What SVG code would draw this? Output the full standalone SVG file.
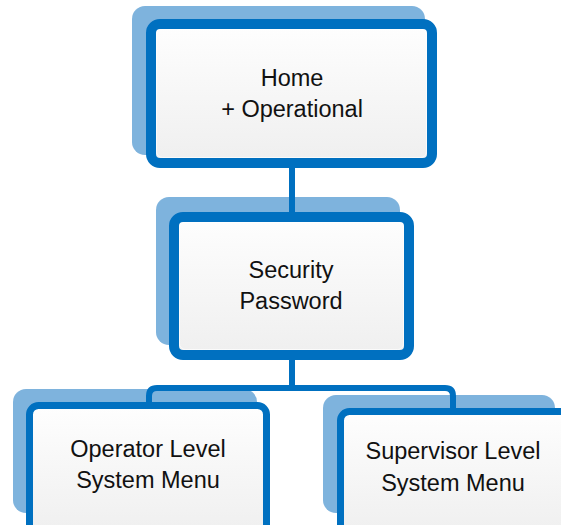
<svg xmlns="http://www.w3.org/2000/svg" width="561" height="525" viewBox="0 0 561 525">
  <defs>
    <linearGradient id="boxFill" x1="0" y1="0" x2="0" y2="1">
      <stop offset="0" stop-color="#fefefe"/>
      <stop offset="1" stop-color="#efefef"/>
    </linearGradient>
    <style>
      .shadow { fill: #7eb3dd; }
      .box { fill: url(#boxFill); stroke: #0070c0; stroke-width: 10; }
      .box.small { stroke-width: 7; }
      .inner { fill: none; stroke: #ffffff; stroke-width: 1; opacity: 0.7; }
      .link { fill: none; stroke: #0070c0; stroke-width: 6; }
      text { font-family: "Liberation Sans", Arial, sans-serif; font-size: 23.5px; fill: #111111; text-anchor: middle; }
    </style>
  </defs>

  <rect width="561" height="525" fill="#ffffff"/>

  <!-- Home -->
  <g id="home">
    <rect class="shadow" x="132" y="6" width="293" height="149" rx="13"/>
    <rect class="box" x="151" y="24" width="281" height="139" rx="9"/>
    <rect class="inner" x="156.5" y="29.5" width="270" height="128" rx="6"/>
    <text x="292" y="86">Home</text>
    <text x="292" y="117">+ Operational</text>
  </g>

  <!-- Security -->
  <g id="security">
    <rect class="shadow" x="156" y="197" width="244" height="148" rx="13"/>
    <rect class="box" x="174" y="217" width="235" height="138" rx="9"/>
    <rect class="inner" x="179.5" y="222.5" width="224" height="127" rx="6"/>
    <text x="291" y="278">Security</text>
    <text x="291" y="309">Password</text>
  </g>

  <!-- Operator -->
  <g id="operator">
    <rect class="shadow" x="13" y="389" width="244" height="124" rx="13"/>
    <rect class="box small" x="29.5" y="405.5" width="237" height="130" rx="9"/>
    <text x="148" y="457">Operator Level</text>
    <text x="148" y="488">System Menu</text>
  </g>

  <!-- Supervisor -->
  <g id="supervisor">
    <rect class="shadow" x="323" y="395" width="232" height="118" rx="13"/>
    <rect class="box small" x="340.5" y="411.5" width="230" height="124" rx="9"/>
    <text x="453" y="459">Supervisor Level</text>
    <text x="453" y="491">System Menu</text>
  </g>

  <!-- Connectors -->
  <g id="connectors">
    <path class="link" d="M292 166 V214"/>
    <path class="link" d="M292 358 V388"/>
    <path class="link" d="M149 404 V396 Q149 388 157 388 H445 Q453 388 453 396 V410"/>
  </g>
</svg>
